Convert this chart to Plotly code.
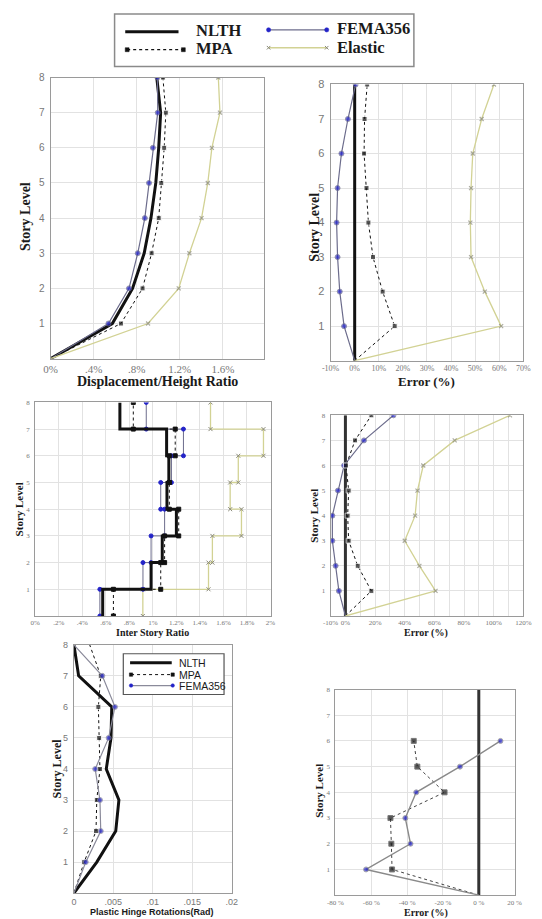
import plotly.graph_objects as go

W, H = 542, 919

levels = [0, 1, 2, 3, 4, 5, 6, 7, 8]
stories = [1, 2, 3, 4, 5, 6, 7, 8]

# Panel 1: Displacement/Height ratio (%)
disp_nlth = [0, 0.573, 0.761, 0.869, 0.932, 0.977, 1.004, 1.022, 0.986]
disp_mpa = [0, 0.653, 0.854, 0.938, 1.004, 1.028, 1.055, 1.070, 1.043]
disp_fema = [0, 0.537, 0.728, 0.809, 0.875, 0.914, 0.950, 0.995, 0.992]
disp_elastic = [0, 0.905, 1.190, 1.289, 1.402, 1.460, 1.498, 1.573, 1.558]

# Panel 2: Error of displacement (%)
disp_err_nlth = [0, 0, 0, 0, 0, 0, 0, 0, 0]
disp_err_mpa = [0, 16.6, 11.6, 7.6, 5.7, 4.9, 3.9, 4.1, 5.2]
disp_err_fema = [0, -4.4, -6.2, -7.1, -7.5, -7.1, -5.5, -2.8, 0.4]
disp_err_elastic = [0, 60.8, 54.0, 48.3, 48.0, 48.3, 49.0, 52.7, 57.8]

# Panel 3: Inter story ratio (%) per story
isr_nlth = [0.574, 0.985, 1.08, 1.20, 1.12, 1.136, 1.117, 0.72]
isr_mpa = [0.665, 1.067, 1.10, 1.22, 1.14, 1.14, 1.19, 0.834]
isr_fema = [0.55, 0.916, 0.985, 1.10, 1.067, 1.158, 1.26, 0.944]
isr_elastic = [0.915, 1.473, 1.506, 1.753, 1.657, 1.726, 1.94, 1.49]

# Panel 4: Error of inter story ratio (%)
isr_err_nlth = [0, 0, 0, 0, 0, 0, 0, 0, 0]
isr_err_mpa = [0, 17.5, 8.3, 2.2, 1.5, 2.2, 0.4, 6.5, 17.5]
isr_err_fema = [0, -4.4, -6.6, -8.8, -8.8, -5.0, -0.9, 12.5, 32.4]
isr_err_elastic = [0, 60.8, 49.9, 40.0, 47.0, 48.6, 52.5, 73.7, 111.0]

# Panel 5: Plastic hinge rotations (rad)
rot_nlth = [0, 0.0029, 0.0053, 0.0057, 0.0041, 0.0047, 0.0048, 0.0006, 0]
rot_mpa = [0, 0.0013, 0.0028, 0.0029, 0.0033, 0.0032, 0.0031, 0.0034, 0.0020]
rot_fema = [0, 0.0015, 0.0034, 0.0033, 0.0027, 0.0044, 0.0052, 0.0036, 0]

# Panel 6: Error of plastic hinge rotations (%)
rot_levels = [0, 1, 2, 3, 4, 5, 6]
rot_err_nlth = [0, 0, 0, 0, 0, 0, 0, 0, 0]
rot_err_mpa = [0, -48.4, -48.8, -49.3, -19.1, -34.3, -36.3]
rot_err_fema = [0, -62.9, -38.1, -41.0, -34.9, -10.5, 12.1]

legend_top = ["NLTH", "MPA", "FEMA356", "Elastic"]
legend_p5 = ["NLTH", "MPA", "FEMA356"]

C_NLTH = "#111111"
C_MPA = "#111111"
C_FEMA_L = "#6c6c8c"
C_FEMA_M = "#2323c8"
C_EL_L = "#d2d294"
C_EL_M = "#8a8a7a"
GRID = "#e2e2e2"
FRAME = "#9a9a9a"
TICK = "#777777"
SERIF = "Liberation Serif"
SANS = "Liberation Sans"


def step(vals):
    xs, ys = [], []
    for i, v in enumerate(vals):
        xs += [v, v]
        ys += [i, i + 1]
    return xs, ys


def msize(n, s):
    return [0] + [s] * (n - 1)


fig = go.Figure()

# ---------- Panel 1 ----------
fig.add_trace(go.Scatter(x=disp_nlth, y=levels, mode="lines", name="NLTH", showlegend=False,
                         line=dict(color=C_NLTH, width=3), xaxis="x", yaxis="y"))
fig.add_trace(go.Scatter(x=disp_fema, y=levels, mode="lines+markers", name="FEMA356", showlegend=False,
                         line=dict(color=C_FEMA_L, width=1.2),
                         marker=dict(color=C_FEMA_M, size=msize(9, 5), symbol="circle"),
                         xaxis="x", yaxis="y"))
fig.add_trace(go.Scatter(x=disp_mpa, y=levels, mode="lines+markers", name="MPA", showlegend=False,
                         line=dict(color=C_MPA, width=1, dash="dot"),
                         marker=dict(color=C_MPA, size=msize(9, 5), symbol="square"),
                         xaxis="x", yaxis="y"))
fig.add_trace(go.Scatter(x=disp_elastic, y=levels, mode="lines+markers", name="Elastic", showlegend=False,
                         line=dict(color=C_EL_L, width=1.3),
                         marker=dict(color=C_EL_M, size=msize(9, 4), symbol="x-thin",
                                     line=dict(color=C_EL_M, width=1.2)),
                         xaxis="x", yaxis="y"))

# ---------- Panel 2 ----------
fig.add_trace(go.Scatter(x=disp_err_nlth, y=levels, mode="lines", showlegend=False,
                         line=dict(color=C_NLTH, width=3), xaxis="x2", yaxis="y2"))
fig.add_trace(go.Scatter(x=disp_err_fema, y=levels, mode="lines+markers", showlegend=False,
                         line=dict(color=C_FEMA_L, width=1.2),
                         marker=dict(color=C_FEMA_M, size=msize(9, 5)), xaxis="x2", yaxis="y2"))
fig.add_trace(go.Scatter(x=disp_err_mpa, y=levels, mode="lines+markers", showlegend=False,
                         line=dict(color=C_MPA, width=1, dash="dot"),
                         marker=dict(color=C_MPA, size=msize(9, 5), symbol="square"),
                         xaxis="x2", yaxis="y2"))
fig.add_trace(go.Scatter(x=disp_err_elastic, y=levels, mode="lines+markers", showlegend=False,
                         line=dict(color=C_EL_L, width=1.3),
                         marker=dict(color=C_EL_M, size=msize(9, 4), symbol="x-thin",
                                     line=dict(color=C_EL_M, width=1.2)),
                         xaxis="x2", yaxis="y2"))

# ---------- Panel 3 (steps) ----------
for vals, lc, lw, dash, mc, ms, sym in [
    (isr_elastic, C_EL_L, 1.3, None, C_EL_M, 4, "x-thin"),
    (isr_fema, C_FEMA_L, 1.0, None, C_FEMA_M, 4, "circle"),
    (isr_mpa, C_MPA, 1.0, "dot", C_MPA, 4, "square"),
]:
    xs, ys = step(vals)
    fig.add_trace(go.Scatter(x=xs, y=ys, mode="lines+markers", showlegend=False,
                             line=dict(color=lc, width=lw, dash=dash),
                             marker=dict(color=mc, size=ms, symbol=sym,
                                         line=dict(color=mc, width=1)),
                             xaxis="x3", yaxis="y3"))
xs, ys = step(isr_nlth)
fig.add_trace(go.Scatter(x=xs, y=ys, mode="lines", showlegend=False,
                         line=dict(color=C_NLTH, width=3), xaxis="x3", yaxis="y3"))

# ---------- Panel 4 ----------
fig.add_trace(go.Scatter(x=isr_err_nlth, y=levels, mode="lines", showlegend=False,
                         line=dict(color="#333333", width=3), xaxis="x4", yaxis="y4"))
fig.add_trace(go.Scatter(x=isr_err_fema, y=levels, mode="lines+markers", showlegend=False,
                         line=dict(color=C_FEMA_L, width=1.2),
                         marker=dict(color=C_FEMA_M, size=msize(9, 5)), xaxis="x4", yaxis="y4"))
fig.add_trace(go.Scatter(x=isr_err_mpa, y=levels, mode="lines+markers", showlegend=False,
                         line=dict(color=C_MPA, width=1, dash="dot"),
                         marker=dict(color=C_MPA, size=msize(9, 5), symbol="square"),
                         xaxis="x4", yaxis="y4"))
fig.add_trace(go.Scatter(x=isr_err_elastic, y=levels, mode="lines+markers", showlegend=False,
                         line=dict(color=C_EL_L, width=1.3),
                         marker=dict(color=C_EL_M, size=msize(9, 4), symbol="x-thin",
                                     line=dict(color=C_EL_M, width=1.2)),
                         xaxis="x4", yaxis="y4"))

# ---------- Panel 5 ----------
fig.add_trace(go.Scatter(x=rot_nlth, y=levels, mode="lines", showlegend=False,
                         line=dict(color=C_NLTH, width=3), xaxis="x5", yaxis="y5"))
fig.add_trace(go.Scatter(x=rot_mpa, y=levels, mode="lines+markers", showlegend=False,
                         line=dict(color=C_MPA, width=1, dash="dot"),
                         marker=dict(color=C_MPA, size=[0, 5, 5, 5, 5, 5, 5, 5, 0], symbol="square"),
                         xaxis="x5", yaxis="y5"))
fig.add_trace(go.Scatter(x=rot_fema, y=levels, mode="lines+markers", showlegend=False,
                         line=dict(color="#8a8a9a", width=1.2),
                         marker=dict(color=C_FEMA_M, size=[0, 5, 5, 5, 5, 5, 5, 5, 0]),
                         xaxis="x5", yaxis="y5"))

# ---------- Panel 6 ----------
fig.add_trace(go.Scatter(x=rot_err_nlth, y=levels, mode="lines", showlegend=False,
                         line=dict(color="#333333", width=3), xaxis="x6", yaxis="y6"))
fig.add_trace(go.Scatter(x=rot_err_mpa, y=rot_levels, mode="lines+markers", showlegend=False,
                         line=dict(color="#444444", width=1, dash="dot"),
                         marker=dict(color=C_MPA, size=msize(7, 5), symbol="square"),
                         xaxis="x6", yaxis="y6"))
fig.add_trace(go.Scatter(x=rot_err_fema, y=rot_levels, mode="lines+markers", showlegend=False,
                         line=dict(color="#8a8a8a", width=1.4),
                         marker=dict(color=C_FEMA_M, size=msize(7, 5)),
                         xaxis="x6", yaxis="y6"))


def px_dom_x(a, b):
    return [a / W, b / W]


def px_dom_y(top, bottom):
    return [1 - bottom / H, 1 - top / H]


def xaxis(dom, rng, tickvals, ticktext, anchor, font, size, minor=None):
    d = dict(domain=px_dom_x(*dom), range=rng, tickvals=tickvals, ticktext=ticktext,
             anchor=anchor, showgrid=True, gridcolor=GRID, gridwidth=1,
             showline=True, mirror=True, linecolor=FRAME, linewidth=1,
             zeroline=False, ticks="", tickangle=0,
             tickfont=dict(family=font, size=size, color=TICK))
    if minor:
        d["minor"] = minor
    return d


def yaxis(dom, anchor, font, size):
    return dict(domain=px_dom_y(*dom), range=[0, 8], tickvals=stories,
                ticktext=[str(s) for s in stories], anchor=anchor,
                showgrid=True, gridcolor=GRID, gridwidth=1,
                showline=True, mirror=True, linecolor=FRAME, linewidth=1,
                zeroline=False, ticks="", ticklabelstandoff=3,
                tickfont=dict(family=font, size=size, color=TICK))


P = {
    1: dict(x=(43, 263), y=(72, 355)),
    2: dict(x=(332, 531), y=(79, 357)),
    3: dict(x=(27, 270), y=(399, 614)),
    4: dict(x=(332, 531), y=(412, 614)),
    5: dict(x=(67, 230), y=(643, 893)),
    6: dict(x=(337, 522), y=(688, 895)),
}

p1_vals = [0, 0.4, 0.8, 1.2, 1.6]
p1_text = ["0%", ".4%", ".8%", "1.2%", "1.6%"]
p2_vals = [-10, 0, 10, 20, 30, 40, 50, 60, 70]
p2_text = ["%d%%" % v for v in p2_vals]
p3_vals = [0, 0.2, 0.4, 0.6, 0.8, 1.0, 1.2, 1.4, 1.6, 1.8, 2.0]
p3_text = ["0%", ".2%", ".4%", ".6%", ".8%", "1%", "1.2%", "1.4%", "1.6%", "1.8%", "2%"]
p4_vals = [-10, 0, 20, 40, 60, 80, 100, 120]
p4_text = ["%d%%" % v for v in p4_vals]
p5_vals = [0, 0.005, 0.01, 0.015, 0.02]
p5_text = ["0", ".005", ".01", ".015", ".02"]
p6_vals = [-80, -60, -40, -20, 0, 20]
p6_text = ["%d %%" % v for v in p6_vals]

fig.update_layout(
    width=W, height=H, margin=dict(l=0, r=0, t=0, b=0),
    paper_bgcolor="white", plot_bgcolor="white", showlegend=False,
    xaxis=xaxis(P[1]["x"], [0, 1.98], p1_vals, p1_text, "y", SERIF, 11),
    yaxis=yaxis(P[1]["y"], "x", SANS, 10),
    xaxis2=xaxis(P[2]["x"], [-10, 70], p2_vals, p2_text, "y2", SERIF, 8),
    yaxis2=yaxis(P[2]["y"], "x2", SANS, 11),
    xaxis3=xaxis(P[3]["x"], [0, 2.0], p3_vals, p3_text, "y3", SERIF, 7),
    yaxis3=yaxis(P[3]["y"], "x3", SERIF, 7),
    xaxis4=xaxis(P[4]["x"], [-10, 120], p4_vals, p4_text, "y4", SERIF, 7,
                 minor=dict(tickvals=[10, 30, 50, 70, 90, 110], showgrid=True, gridcolor=GRID)),
    yaxis4=yaxis(P[4]["y"], "x4", SERIF, 7),
    xaxis5=xaxis(P[5]["x"], [0, 0.02], p5_vals, p5_text, "y5", SANS, 9),
    yaxis5=yaxis(P[5]["y"], "x5", SANS, 9),
    xaxis6=xaxis(P[6]["x"], [-80, 20], p6_vals, p6_text, "y6", SERIF, 7),
    yaxis6=yaxis(P[6]["y"], "x6", SERIF, 7),
)


def px(x):
    return x / W


def py(y):
    return 1 - y / H


def ann(text, xpx, ypx, size, font=SERIF, angle=0, bold=True, xanchor="center"):
    fig.add_annotation(x=px(xpx), y=py(ypx), xref="paper", yref="paper",
                       text=("<b>%s</b>" % text) if bold else text, showarrow=False,
                       textangle=angle, xanchor=xanchor, yanchor="middle",
                       font=dict(family=font, size=size, color="#1a1a1a"))


def hline(x0, x1, y, color, width, dash="solid"):
    fig.add_shape(type="line", xref="paper", yref="paper", x0=px(x0), x1=px(x1),
                  y0=py(y), y1=py(y), line=dict(color=color, width=width, dash=dash))


def dot(x, y, r, color, kind="circle"):
    if kind == "x":
        for dy in (-r, r):
            fig.add_shape(type="line", xref="paper", yref="paper", x0=px(x - r), x1=px(x + r),
                          y0=py(y - dy), y1=py(y + dy), line=dict(color=color, width=1))
        return
    fig.add_shape(type=kind, xref="paper", yref="paper", x0=px(x - r), x1=px(x + r),
                  y0=py(y - r), y1=py(y + r), fillcolor=color, line=dict(color=color, width=0.5))


# ---------- top legend ----------
fig.add_shape(type="rect", xref="paper", yref="paper", x0=px(109), x1=px(418), y0=py(61), y1=py(8),
              line=dict(color="#8a8a8a", width=1.5), fillcolor="white")
# NLTH
hline(120, 175, 26, C_NLTH, 3)
ann(legend_top[0], 191, 25, 16.5, xanchor="left")
# MPA
hline(122, 180, 44, C_MPA, 1.2, "dot")
dot(122, 44, 2, C_MPA, "rect")
dot(180, 44, 2, C_MPA, "rect")
ann(legend_top[1], 191, 43, 16.5, xanchor="left")
# FEMA356
hline(268, 328, 24, C_FEMA_L, 1.2)
dot(268, 24, 2.2, C_FEMA_M)
dot(328, 24, 2.2, C_FEMA_M)
ann(legend_top[2], 337, 23, 16.5, xanchor="left")
# Elastic
hline(268, 328, 42, C_EL_L, 1.3)
dot(268, 42, 1.8, C_EL_M, "x")
dot(328, 42, 1.8, C_EL_M, "x")
ann(legend_top[3], 337, 42, 16.5, xanchor="left")

# ---------- panel 5 legend ----------
fig.add_shape(type="rect", xref="paper", yref="paper", x0=px(118), x1=px(222), y0=py(693), y1=py(652),
              line=dict(color="#555555", width=1.2), fillcolor="white")
hline(125, 168, 661, C_NLTH, 3)
ann(legend_p5[0], 173, 661, 10.5, font=SANS, bold=False, xanchor="left")
hline(126, 169, 673, C_MPA, 1, "dot")
dot(126, 673, 1.7, C_MPA, "rect")
dot(169, 673, 1.7, C_MPA, "rect")
ann(legend_p5[1], 173, 673, 10.5, font=SANS, bold=False, xanchor="left")
hline(126, 169, 684, "#8a8a9a", 1.2)
dot(126, 684, 1.8, C_FEMA_M)
dot(169, 684, 1.8, C_FEMA_M)
ann(legend_p5[2], 173, 684, 10.5, font=SANS, bold=False, xanchor="left")

# ---------- axis titles ----------
ann("Displacement/Height Ratio", 153, 378, 14)
ann("Error (%)", 431, 378, 13)
ann("Inter Story Ratio", 148, 631, 10)
ann("Error (%)", 431, 631, 10)
ann("Plastic Hinge Rotations(Rad)", 148, 912, 9, font=SANS)
ann("Error (%)", 430, 913, 10)
ann("Story Level", 17, 212, 14, angle=-90)
ann("Story Level", 315, 223, 14, angle=-90)
ann("Story Level", 10, 507, 11, angle=-90)
ann("Story Level", 315, 513, 11, angle=-90)
ann("Story Level", 50, 767, 12, angle=-90)
ann("Story Level", 320, 790, 11, angle=-90)

fig.write_html("out.html")
